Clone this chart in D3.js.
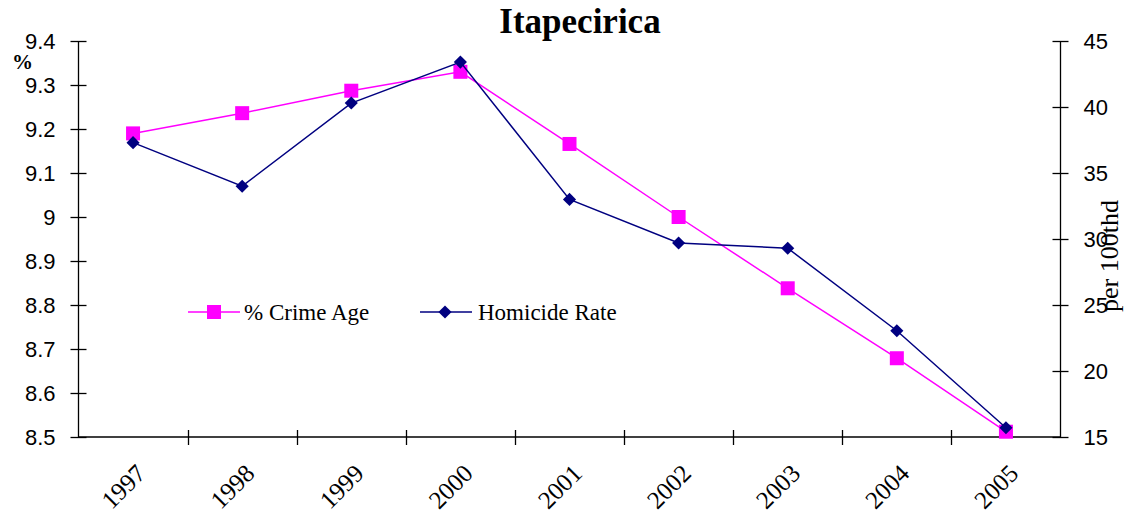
<!DOCTYPE html>
<html>
<head>
<meta charset="UTF-8">
<title>Itapecirica</title>
<script src="https://d3js.org/d3.v7.min.js"></script>
<style>
    html, body { margin:0; padding:0; background:#fff; }
    svg text { fill:#000; }
</style>
</head>
<body>
<div id="chart"></div>
<script>
    // data
    const years = ["1997","1998","1999","2000","2001","2002","2003","2004","2005"];
    const crimeAge = [9.19, 9.236, 9.287, 9.33, 9.166, 9.0, 8.838, 8.679, 8.512];
    const homicideRate = [37.3, 34.0, 40.3, 43.4, 33.0, 29.7, 29.3, 23.05, 15.7];
    const leftTicks = [8.5, 8.6, 8.7, 8.8, 8.9, 9.0, 9.1, 9.2, 9.3, 9.4];
    const rightTicks = [15, 20, 25, 30, 35, 40, 45];

    const W = 1131, H = 523;
    const plot = { left: 78.5, right: 1060.5, top: 41, bottom: 437 };

    const svg = d3.select("#chart").append("svg")
        .attr("width", W).attr("height", H);

    const x = d3.scaleBand().domain(years).range([plot.left, plot.right]).padding(0);
    const yL = d3.scaleLinear().domain([8.5, 9.4]).range([plot.bottom, plot.top]);
    const yR = d3.scaleLinear().domain([15, 45]).range([plot.bottom, plot.top]);

    // title
    svg.append("text")
        .attr("x", 580).attr("y", 33)
        .attr("text-anchor", "middle")
        .style("font-family", "Liberation Serif")
        .style("font-weight", "bold")
        .style("font-size", "35px")
        .text("Itapecirica");

    // left axis
    const gL = svg.append("g")
        .attr("transform", `translate(${plot.left},0)`)
        .call(d3.axisLeft(yL).tickValues(leftTicks).tickSize(8).tickPadding(15)
            .tickFormat(d => String(+d.toFixed(1))));
    gL.selectAll(".tick line").attr("x1", 8);
    gL.selectAll("text").style("font-family", "Liberation Sans").style("font-size", "22px");
    gL.select(".domain").attr("d", `M0,${plot.top}V${plot.bottom}`);

    // right axis
    const gR = svg.append("g")
        .attr("transform", `translate(${plot.right},0)`)
        .call(d3.axisRight(yR).tickValues(rightTicks).tickSize(8).tickPadding(15));
    gR.selectAll(".tick line").attr("x1", -8);
    gR.selectAll("text").style("font-family", "Liberation Sans").style("font-size", "22px");
    gR.select(".domain").attr("d", `M0,${plot.top}V${plot.bottom}`);

    // x axis: line, ticks between categories, rotated labels
    const gX = svg.append("g");
    gX.append("line")
        .attr("x1", plot.left).attr("x2", plot.right)
        .attr("y1", plot.bottom).attr("y2", plot.bottom)
        .attr("stroke", "#000");
    gX.selectAll("line.tk")
        .data(years.slice(1))
        .join("line")
        .attr("class", "tk")
        .attr("x1", d => Math.round(x(d)) + 0.5).attr("x2", d => Math.round(x(d)) + 0.5)
        .attr("y1", plot.bottom - 7).attr("y2", plot.bottom + 8)
        .attr("stroke", "#000");
    gX.selectAll("text")
        .data(years)
        .join("text")
        .attr("transform", d => `translate(${x(d) + x.bandwidth() / 2 + 14},${plot.bottom + 38}) rotate(-45)`)
        .attr("text-anchor", "end")
        .style("font-family", "Liberation Serif")
        .style("font-size", "25px")
        .text(d => d);

    svg.selectAll(".domain, .tick line").attr("stroke", "#000").attr("stroke-width", 1.3);
    gX.selectAll("line").attr("stroke-width", 1.3);

    // axis titles
    svg.append("text")
        .attr("x", 12).attr("y", 69)
        .style("font-family", "Liberation Serif")
        .style("font-weight", "bold")
        .style("font-size", "21px")
        .text("%");
    svg.append("text")
        .attr("transform", "translate(1118,256) rotate(-90)")
        .attr("text-anchor", "middle")
        .style("font-family", "Liberation Serif")
        .style("font-size", "26px")
        .text("per 100thd");

    const cx = d => x(d) + x.bandwidth() / 2;

    // % Crime Age
    const lineL = d3.line().x((d, i) => cx(years[i])).y(d => yL(d));
    svg.append("path")
        .datum(crimeAge)
        .attr("d", lineL)
        .attr("fill", "none")
        .attr("stroke", "#ff00ff")
        .attr("stroke-width", 1.5);
    svg.selectAll("rect.crime")
        .data(crimeAge)
        .join("rect")
        .attr("class", "crime")
        .attr("x", (d, i) => cx(years[i]) - 7)
        .attr("y", d => yL(d) - 7)
        .attr("width", 14).attr("height", 14)
        .attr("fill", "#ff00ff");

    // Homicide Rate
    const lineR = d3.line().x((d, i) => cx(years[i])).y(d => yR(d));
    svg.append("path")
        .datum(homicideRate)
        .attr("d", lineR)
        .attr("fill", "none")
        .attr("stroke", "#000080")
        .attr("stroke-width", 1.5);
    const diamond = d3.symbol().type(d3.symbolDiamond2).size(110);
    svg.selectAll("path.hom")
        .data(homicideRate)
        .join("path")
        .attr("class", "hom")
        .attr("transform", (d, i) => `translate(${cx(years[i])},${yR(d)})`)
        .attr("d", diamond)
        .attr("fill", "#000080");

    // legend
    const lg = svg.append("g").attr("transform", "translate(0,312)");
    lg.append("line").attr("x1", 188).attr("x2", 240).attr("stroke", "#ff00ff").attr("stroke-width", 1.5);
    lg.append("rect").attr("x", 207).attr("y", -7).attr("width", 14).attr("height", 14).attr("fill", "#ff00ff");
    lg.append("text").attr("x", 244).attr("y", 8)
        .style("font-family", "Liberation Serif").style("font-size", "23px")
        .text("% Crime Age");
    lg.append("line").attr("x1", 420).attr("x2", 472).attr("stroke", "#000080").attr("stroke-width", 1.5);
    lg.append("path").attr("transform", "translate(445,0)").attr("d", diamond).attr("fill", "#000080");
    lg.append("text").attr("x", 478).attr("y", 8)
        .style("font-family", "Liberation Serif").style("font-size", "23px")
        .text("Homicide Rate");
</script>
</body>
</html>
